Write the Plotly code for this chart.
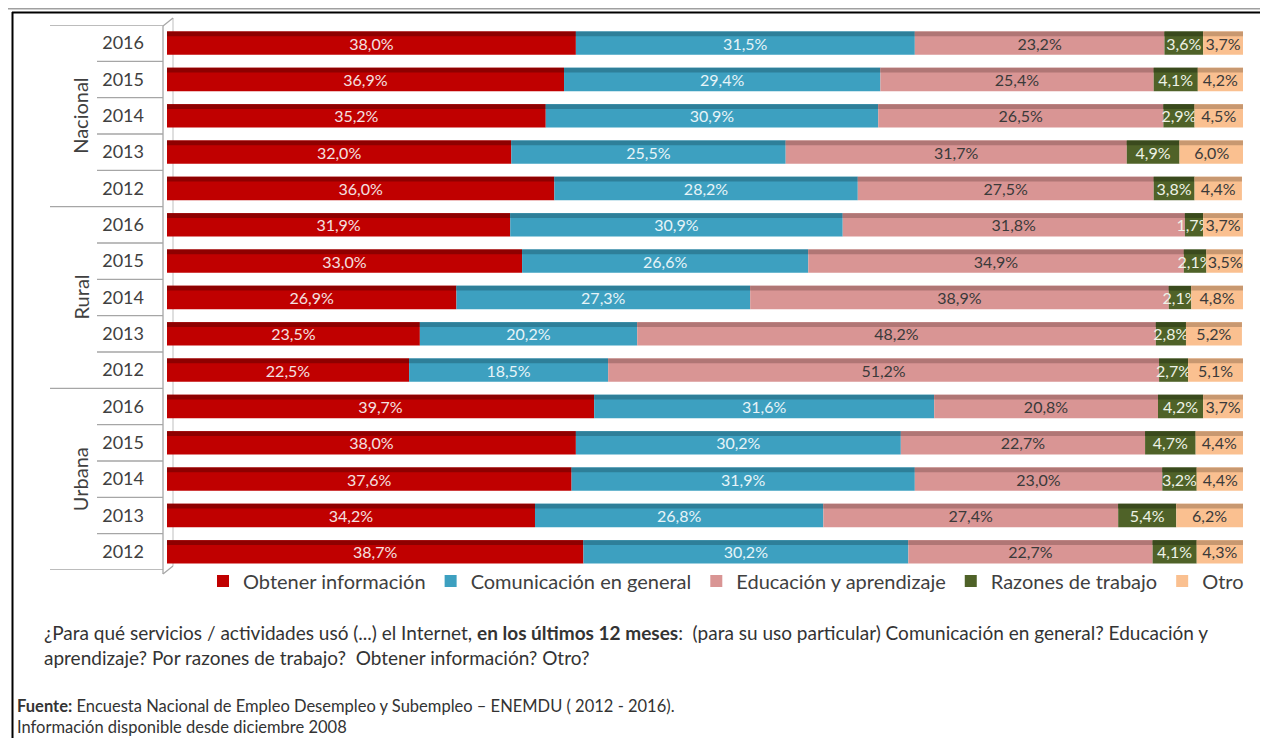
import plotly.graph_objects as go

groups = ["Nacional", "Rural", "Urbana"]
years = ["2016", "2015", "2014", "2013", "2012"]
series = ["Obtener información", "Comunicación en general", "Educación y aprendizaje",
          "Razones de trabajo", "Otro"]

# values per row (top to bottom): Nacional 2016..2012, Rural 2016..2012, Urbana 2016..2012
obtener = [38.0, 36.9, 35.2, 32.0, 36.0,
           31.9, 33.0, 26.9, 23.5, 22.5,
           39.7, 38.0, 37.6, 34.2, 38.7]
comunicacion = [31.5, 29.4, 30.9, 25.5, 28.2,
                30.9, 26.6, 27.3, 20.2, 18.5,
                31.6, 30.2, 31.9, 26.8, 30.2]
educacion = [23.2, 25.4, 26.5, 31.7, 27.5,
             31.8, 34.9, 38.9, 48.2, 51.2,
             20.8, 22.7, 23.0, 27.4, 22.7]
trabajo = [3.6, 4.1, 2.9, 4.9, 3.8,
           1.7, 2.1, 2.1, 2.8, 2.7,
           4.2, 4.7, 3.2, 5.4, 4.1]
otro = [3.7, 4.2, 4.5, 6.0, 4.4,
        3.7, 3.5, 4.8, 5.2, 5.1,
        3.7, 4.4, 4.4, 6.2, 4.3]

values = [obtener, comunicacion, educacion, trabajo, otro]
colors = ["#C00000", "#3DA0C0", "#D99594", "#4F6228", "#FAC090"]
top_colors = ["#8E0000", "#2E7F99", "#B07675", "#3A4A1D", "#C89870"]
text_colors = ["#F4E0E0", "#E6F4F8", "#3A3A3A", "#EEF2E6", "#3A3A3A"]

FONT = "Lato, 'Open Sans', sans-serif"
OFF = 8  # page body margin
W, H = 1260, 730
ML, MR, MT, MB = 159, 25, 17, 168
PW = W - ML - MR
PH = H - MT - MB


def px(p):
    return (p - OFF - ML) / PW


def py(q):
    return (H - MB - (q - OFF)) / PH


n = len(obtener)
ypos = list(range(n))
tick_years = years * len(groups)

fig = go.Figure()
BW = 0.64
base = [0.0] * n
for name, vals, col, tcol, tc in zip(series, values, colors, text_colors, top_colors):
    fig.add_trace(go.Bar(
        y=ypos, x=vals, base=list(base), name=name, orientation="h",
        width=BW,
        marker=dict(color=col, line=dict(width=0)),
        text=[f"{v:.1f}%".replace(".", ",") for v in vals],
        textposition="inside", insidetextanchor="middle", textangle=0,
        constraintext="none",
        textfont=dict(family=FONT, size=16, color=tcol),
        hoverinfo="skip",
    ))
    fig.add_trace(go.Bar(
        y=ypos, x=vals, base=list(base), orientation="h",
        width=0.13, offset=-BW / 2,
        marker=dict(color=tc, line=dict(width=0)),
        showlegend=False, hoverinfo="skip",
    ))
    base = [b + v for b, v in zip(base, vals)]

shapes = []
# separators between year rows (short) and groups (long)
for k in range(n + 1):
    yb = k - 0.5
    long = (k % 5 == 0)
    shapes.append(dict(type="line", xref="paper", yref="y",
                       x0=px(50 if long else 97), x1=px(163), y0=yb, y1=yb,
                       line=dict(color="#A6A6A6", width=1.3)))
# vertical axis (3D wall edges)
shapes.append(dict(type="line", xref="paper", yref="paper", x0=px(163), x1=px(163),
                   y0=py(574), y1=py(26), line=dict(color="#A6A6A6", width=1.3)))
shapes.append(dict(type="line", xref="paper", yref="paper", x0=px(173), x1=px(173),
                   y0=py(566), y1=py(18), line=dict(color="#BFBFBF", width=1),
                   layer="below"))
shapes.append(dict(type="line", xref="paper", yref="paper", x0=px(163), x1=px(173),
                   y0=py(26), y1=py(18), line=dict(color="#A6A6A6", width=1.3)))
shapes.append(dict(type="line", xref="paper", yref="paper", x0=px(163), x1=px(173),
                   y0=py(574), y1=py(566), line=dict(color="#A6A6A6", width=1.3)))
# frame
shapes.append(dict(type="line", xref="paper", yref="paper", x0=px(8), x1=px(1260),
                   y0=py(8.8), y1=py(8.8), line=dict(color="#A0A0A0", width=1.5)))
shapes.append(dict(type="line", xref="paper", yref="paper", x0=px(12), x1=px(1268),
                   y0=py(12.5), y1=py(12.5), line=dict(color="#000000", width=2)))
shapes.append(dict(type="line", xref="paper", yref="paper", x0=px(12.5), x1=px(12.5),
                   y0=py(12), y1=py(738), line=dict(color="#000000", width=2)))

annotations = []
for gi, g in enumerate(groups):
    annotations.append(dict(text=g, xref="paper", yref="y", x=px(66), y=gi * 5 + 2,
                            textangle=-90, showarrow=False,
                            font=dict(family=FONT, size=20, color="#404040")))

annotations.append(dict(
    text="¿Para qué servicios / actividades usó (...) el Internet, <b>en los últimos 12 meses</b>:  "
         "(para su uso particular) Comunicación en general? Educación y<br>"
         "aprendizaje? Por razones de trabajo?  Obtener información? Otro?",
    xref="paper", yref="paper", x=px(42), y=py(619), xanchor="left", yanchor="top",
    align="left", showarrow=False,
    font=dict(family=FONT, size=19, color="#333333")))
annotations.append(dict(
    text="<b>Fuente:</b> Encuesta Nacional de Empleo Desempleo y Subempleo – ENEMDU ( 2012 - 2016).<br>"
         "Información disponible desde diciembre 2008",
    xref="paper", yref="paper", x=px(15), y=py(694), xanchor="left", yanchor="top",
    align="left", showarrow=False,
    font=dict(family=FONT, size=16.5, color="#333333")))

fig.update_layout(
    width=W, height=H, barmode="overlay",
    margin=dict(l=ML, r=MR, t=MT, b=MB),
    paper_bgcolor="white", plot_bgcolor="white",
    font=dict(family=FONT),
    xaxis=dict(range=[0, 100], visible=False, fixedrange=True),
    yaxis=dict(tickmode="array", tickvals=ypos, ticktext=tick_years,
               range=[n - 0.5, -0.5], showgrid=False, zeroline=False, showline=False,
               ticks="", ticklabelstandoff=22,
               tickfont=dict(family=FONT, size=18, color="#404040")),
    legend=dict(orientation="h", x=px(726), xanchor="center", y=py(581), yanchor="middle",
                font=dict(family=FONT, size=20, color="#404040"),
                itemwidth=30, traceorder="normal", bgcolor="rgba(0,0,0,0)"),
    shapes=shapes, annotations=annotations,
    showlegend=True,
)

fig.write_html("out.html")
